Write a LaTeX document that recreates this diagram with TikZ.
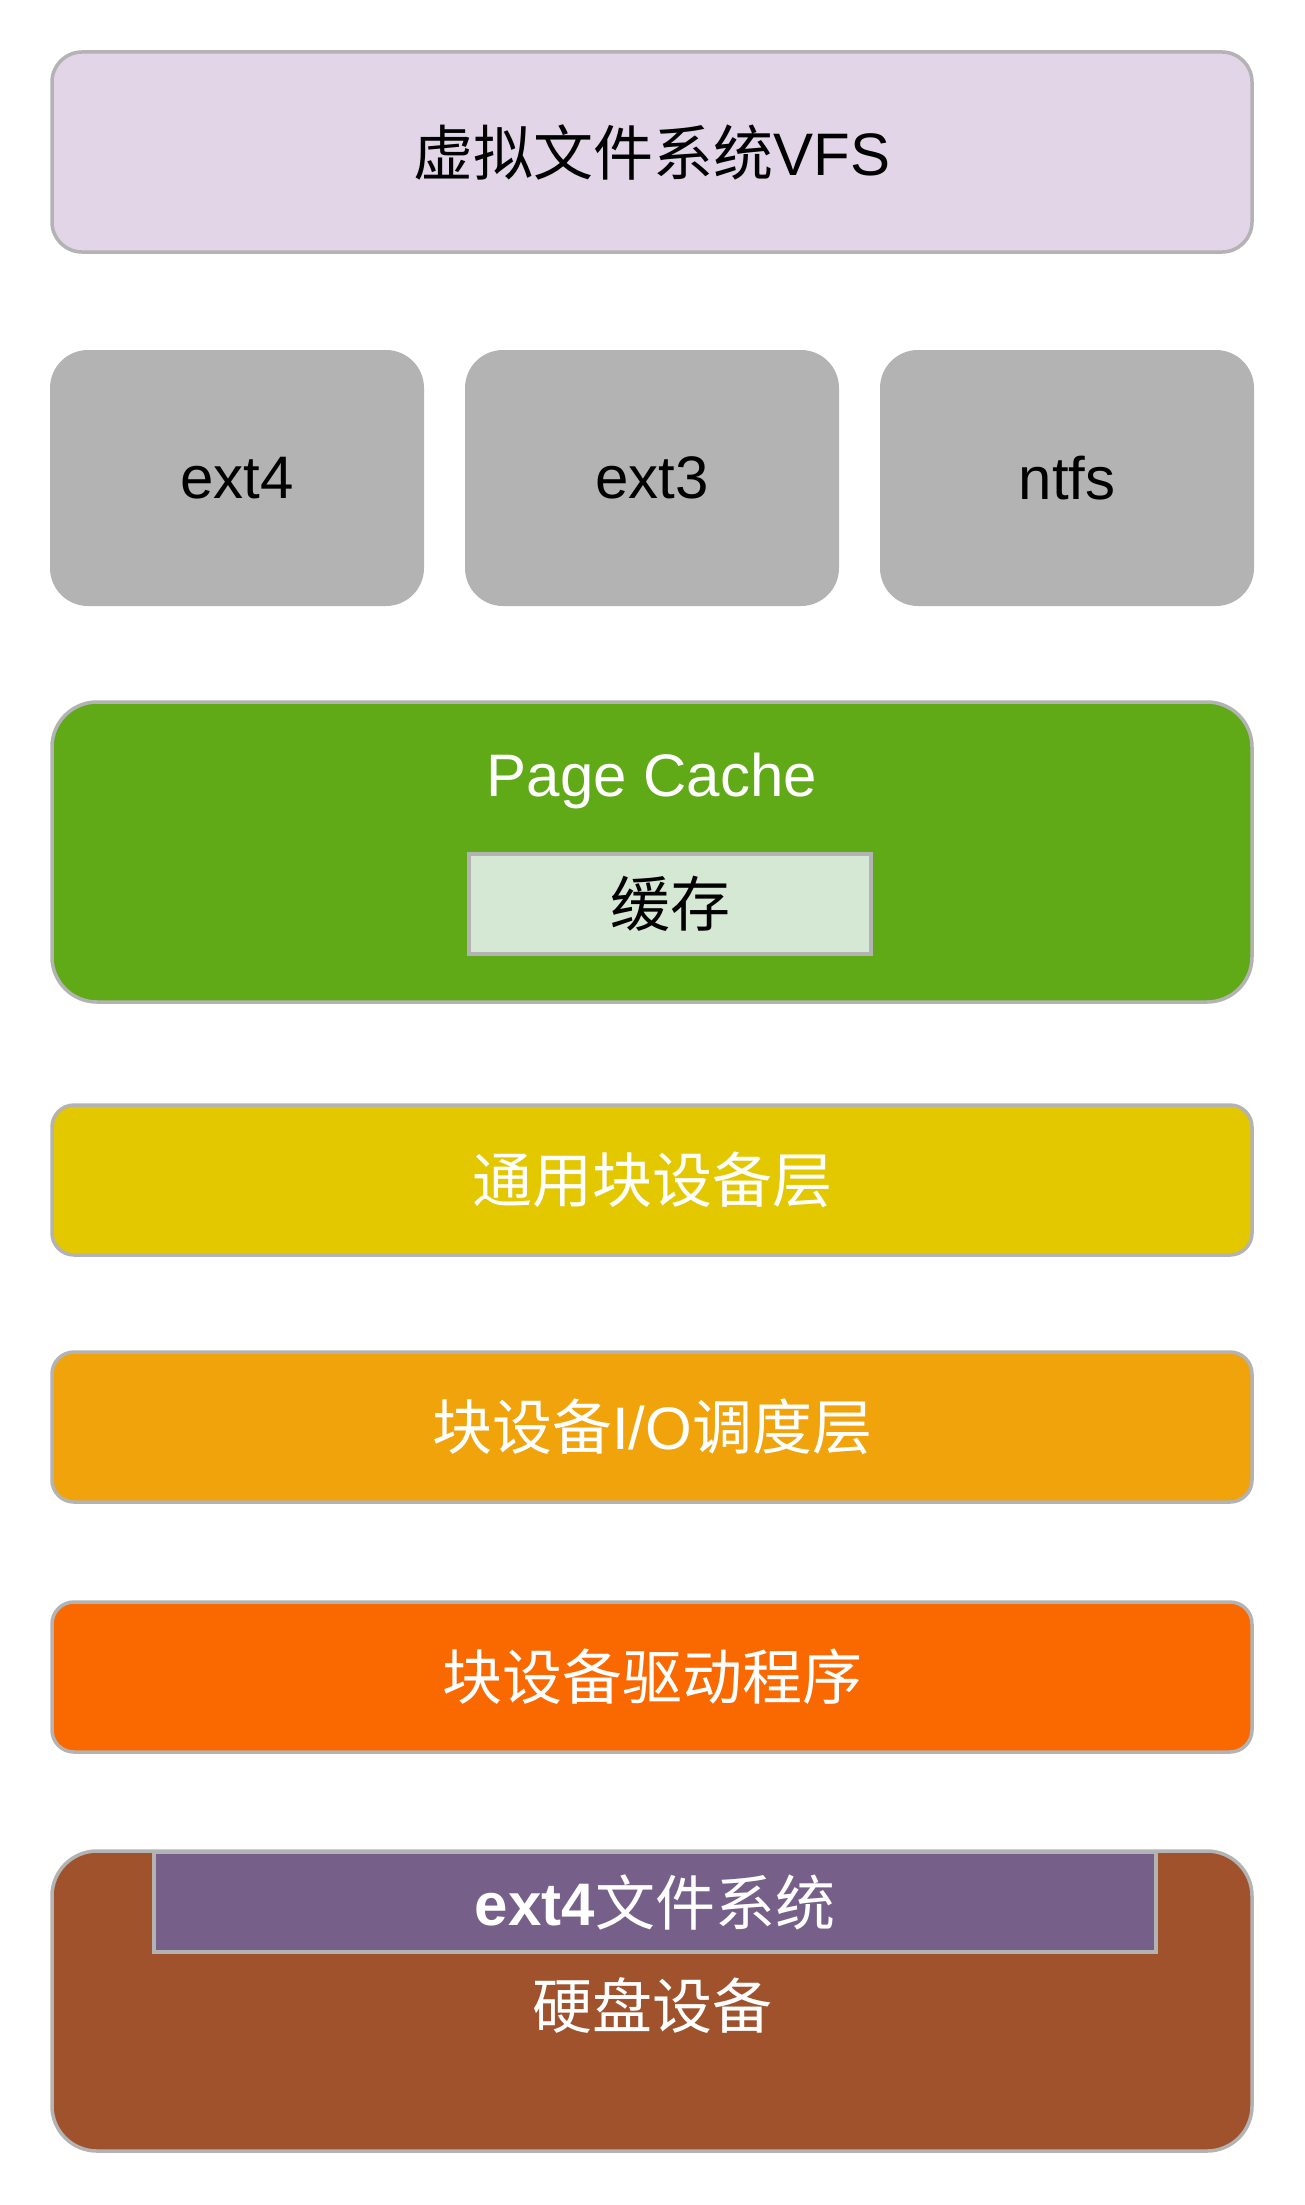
\documentclass[tikz,border=0pt]{standalone}
\usepackage{fontspec}
\setmainfont{Liberation Sans}
\newfontfamily\cjk{Noto Sans CJK SC}

\definecolor{edgegray}{HTML}{B3B3B3}
\definecolor{vfsfill}{HTML}{E1D5E7}
\definecolor{pcfill}{HTML}{60A917}
\definecolor{cachefill}{HTML}{D5E8D4}
\definecolor{genfill}{HTML}{E3C800}
\definecolor{iofill}{HTML}{F0A30A}
\definecolor{drvfill}{HTML}{FA6800}
\definecolor{diskfill}{HTML}{A0522D}
\definecolor{ext4fill}{HTML}{76608A}

\tikzset{
    layer/.style={draw=edgegray, line width=1.75pt, rectangle, inner sep=0pt,
        minimum width=600pt, font=\fontsize{30}{36}\selectfont},
    fsbox/.style={fill=edgegray, rectangle, rounded corners=19pt, inner sep=0pt,
        minimum width=187pt, minimum height=128pt, font=\fontsize{30}{36}\selectfont},
    inbox/.style={draw=edgegray, line width=1.75pt, rectangle, inner sep=0pt,
        minimum height=50pt, font=\fontsize{30}{36}\selectfont},
    label/.style={font=\fontsize{30}{36}\selectfont, inner sep=0pt},
}

\begin{document}
\begin{tikzpicture}[x=0.5pt, y=-0.5pt]
    % 1 unit = 1 pixel of the 1305 x 2205 picture
    \useasboundingbox (0, 0) rectangle (1305, 2205);

    % VFS: 52 .. 252
    \node[layer, fill=vfsfill, rounded corners=15pt, minimum height=100pt] (vfs) at (652, 152) {{\cjk 虚拟文件系统}VFS};

    % file systems: 350 .. 606
    \node[fsbox] (ext4) at (237, 478) {ext4};
    \node[fsbox] (ext3) at (652, 478) {ext3};
    \node[fsbox] (ntfs) at (1067, 478) {ntfs};

    % Page Cache: 702 .. 1002
    \node[layer, fill=pcfill, rounded corners=22.5pt, minimum height=150pt] (pagecache) at (652, 852) {};
    \node[label, text=white, anchor=base] (pagecachetext) at (652, 796) {Page Cache};
    \node[inbox, fill=cachefill, minimum width=201pt] (cache) at (670, 904) {\cjk 缓存};

    % generic block layer: 1105 .. 1255
    \node[layer, fill=genfill, text=white, rounded corners=11pt, minimum height=75pt] (generic) at (652, 1180) {\cjk 通用块设备层};

    % I/O scheduler: 1352 .. 1502
    \node[layer, fill=iofill, text=white, rounded corners=11pt, minimum height=75pt] (iosched) at (652, 1427) {{\cjk 块设备}I/O{\cjk 调度层}};

    % driver: 1602 .. 1752
    \node[layer, fill=drvfill, text=white, rounded corners=11pt, minimum height=75pt] (driver) at (652, 1677) {\cjk 块设备驱动程序};

    % disk: 1852 .. 2152
    \node[layer, fill=diskfill, rounded corners=22.5pt, minimum height=150pt] (disk) at (652, 2001) {};
    \node[inbox, fill=ext4fill, text=white, minimum width=501pt] (ext4fs) at (655, 1902) {\textbf{ext4}{\cjk 文件系统}};
    \node[label, text=white] (disktext) at (652, 2005) {\cjk 硬盘设备};
\end{tikzpicture}
\end{document}
